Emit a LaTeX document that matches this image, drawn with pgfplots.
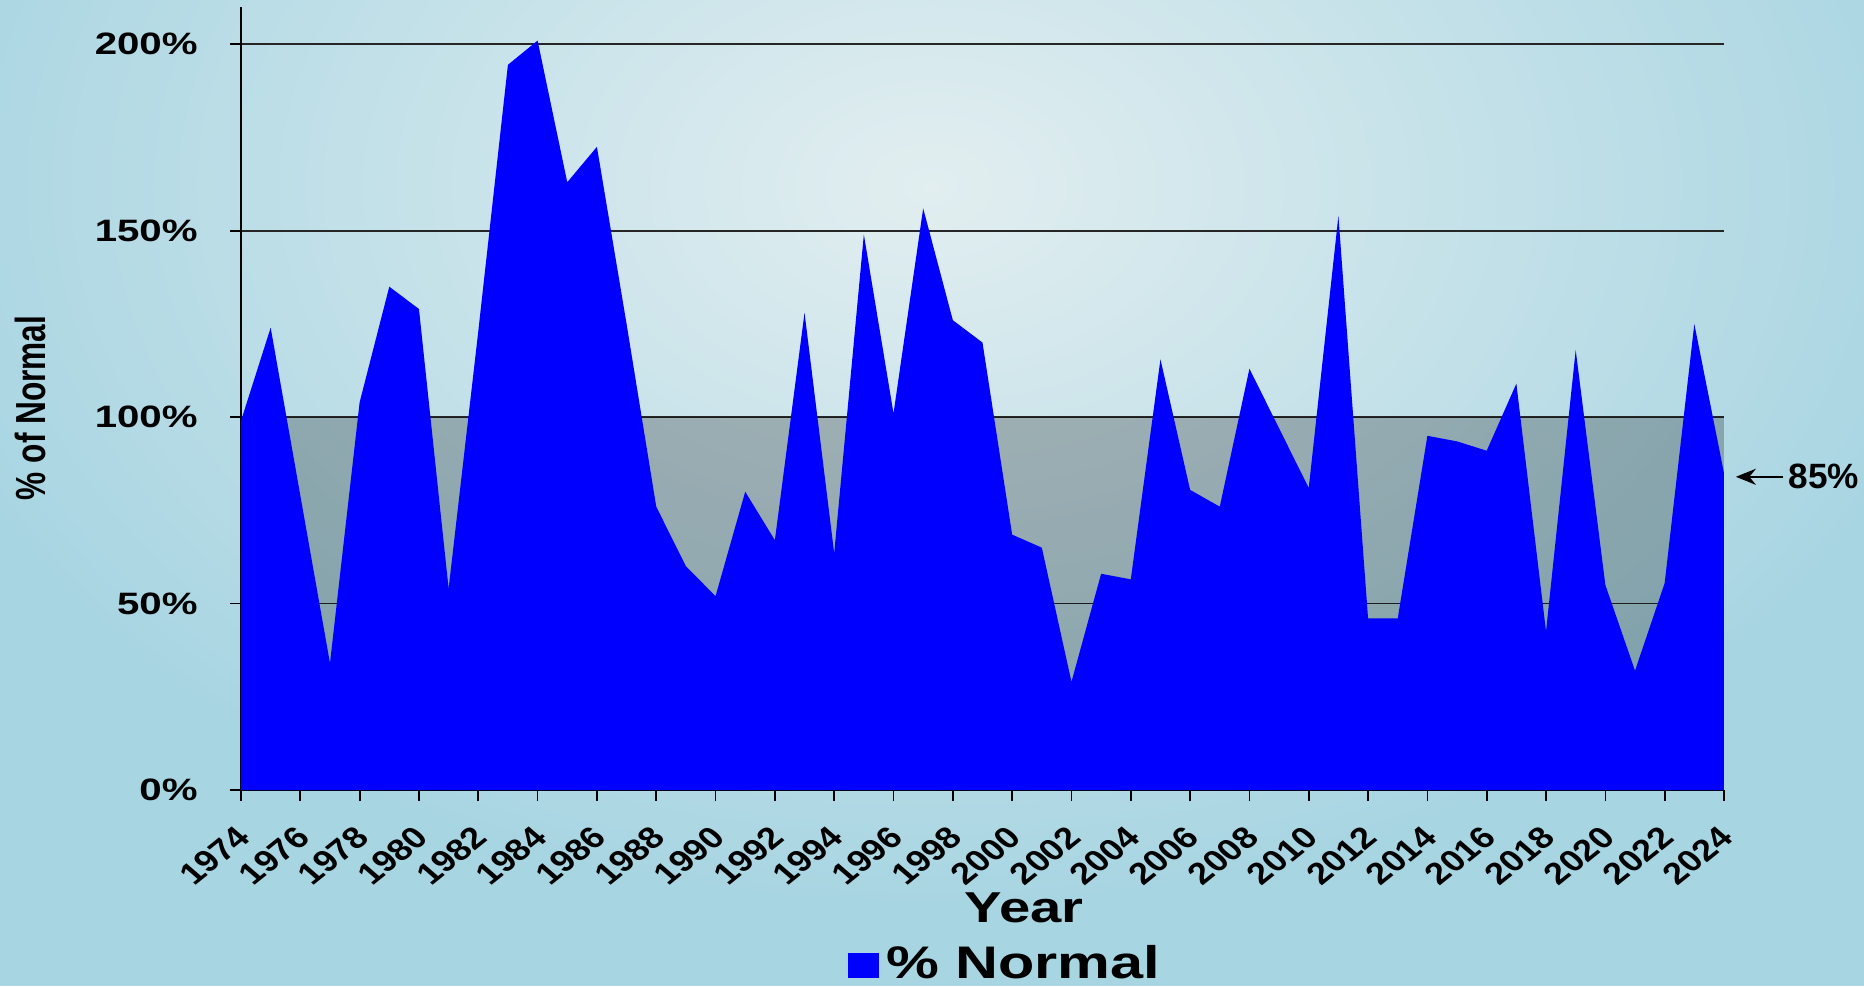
\documentclass[border=0pt]{standalone}
\usepackage{pgfplots}
\pgfplotsset{compat=1.18}
\usepackage{fontspec}
\setmainfont{Liberation Sans}
\usetikzlibrary{arrows.meta}

\definecolor{bgblue}{RGB}{168,213,226}
\definecolor{bglight}{RGB}{226,238,240}
\definecolor{rainblue}{RGB}{0,0,255}
% the original chart is stretched sideways
\newcommand{\sx}[1]{\scalebox{1.3}[1]{#1}}

\begin{document}
\begin{tikzpicture}
\fill[bgblue] (0,0) rectangle (186.4mm,98.6mm);
\begin{scope}
  \clip (0,0) rectangle (186.4mm,98.6mm);
  \shade[inner color=bglight, outer color=bgblue] (93mm,80mm) ellipse (105mm and 72mm);
\end{scope}

\begin{axis}[
  at={(24.1mm,19.6mm)}, anchor=south west,
  scale only axis, width=148.3mm, height=78.3mm,
  xmin=1974, xmax=2024, ymin=0, ymax=210,
  axis x line*=bottom, axis y line*=left,
  axis line style={line width=0.7pt, -},
  xtick={1974,1976,...,2024}, minor x tick num=1,
  ytick={0,50,...,200},
  yticklabels={\sx{0\%},\sx{50\%},\sx{100\%},\sx{150\%},\sx{200\%}},
  ymajorgrids, grid style={black!85, line width=0.5pt},
  tick align=outside, major tick length=1.1mm, minor tick length=1.1mm,
  tick style={black, line width=0.5pt},
  x tick label style={/pgf/number format/1000 sep={},
    /pgf/number format/assume math mode=true,
    font=\bfseries\fontsize{8.6}{10}\selectfont,
    xshift=-0.6mm, yshift=-0.6mm, xscale=1.2, rotate=44, anchor=north east},
  y tick label style={font=\bfseries\fontsize{8.8}{10.5}\selectfont, xshift=-2mm},
  xlabel={\sx{Year}},
  xlabel style={at={(axis description cs:0.528,-0.151)}, anchor=center,
    font=\bfseries\fontsize{12.3}{14}\selectfont},
  ylabel={\scalebox{1}[1.33]{\% of Normal}},
  ylabel style={at={(axis description cs:-0.142,0.488)}, anchor=center,
    font=\bfseries\fontsize{9}{11}\selectfont},
  legend style={at={(axis description cs:0.517,-0.2235)}, anchor=center,
    draw=none, fill=none, font=\bfseries\fontsize{13}{15}\selectfont},
  legend image code/.code={\fill[rainblue] (0mm,-1.25mm) rectangle (3.1mm,1.25mm);},
  clip=false,
]
% below-normal band
\fill[black, opacity=0.24] (axis cs:1974,0) rectangle (axis cs:2024,100);

\addplot[fill=rainblue, draw=none] coordinates {
(1974,99) (1975,124) (1976,79) (1977,34) (1978,104) (1979,135)
(1980,129) (1981,54) (1982,123) (1983,194.5) (1984,201) (1985,163)
(1986,172.5) (1987,125) (1988,76) (1989,60) (1990,52) (1991,80)
(1992,67) (1993,128) (1994,63.5) (1995,149) (1996,101) (1997,156)
(1998,126) (1999,120) (2000,68.5) (2001,65) (2002,29) (2003,58)
(2004,56.5) (2005,115.5) (2006,80.5) (2007,76) (2008,113) (2009,97)
(2010,81) (2011,154) (2012,46) (2013,46) (2014,95) (2015,93.5)
(2016,91) (2017,109) (2018,42.5) (2019,118) (2020,55) (2021,32)
(2022,55.5) (2023,125) (2024,85)
} \closedcycle;
\addlegendentry{\sx{\% Normal}}

\draw[-{Stealth[length=2mm,width=1.6mm]}, line width=0.6pt]
  (axis cs:2026,84) -- (axis cs:2024.4,84);
\node[anchor=west, inner sep=0pt, font=\bfseries\fontsize{10}{12}\selectfont]
  at (axis cs:2026.15,84) {85\%};
\end{axis}

\pgfresetboundingbox
\path[use as bounding box] (0,0) rectangle (186.4mm,98.6mm);
\end{tikzpicture}
\end{document}
